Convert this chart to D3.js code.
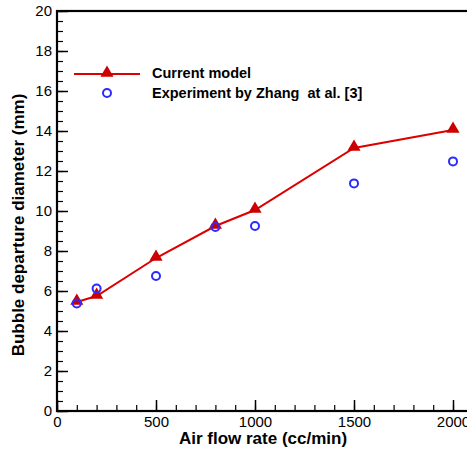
<!DOCTYPE html>
<html>
  <head>
    <meta charset="utf-8">
    <title>Bubble departure diameter</title>
    <script src="https://d3js.org/d3.v7.min.js"></script>
    <style>
    body { margin: 0; background: #fff; }
    text { font-family: "Liberation Sans", Arial, sans-serif; }
    .tick text { font-size: 15px; fill: #000; }
    .axis-title { font-size: 17px; font-weight: bold; }
    .legend-text { font-size: 14.5px; font-weight: bold; }
    </style>
  </head>
  <body>
    <script>
      // data
      const flowRates = [100, 200, 500, 800, 1000, 1500, 2000];
      const modelDiam = [5.45, 5.75, 7.65, 9.25, 10.05, 13.15, 14.05];
      const expDiam = [5.38, 6.12, 6.75, 9.2, 9.25, 11.38, 12.48];
      const xTicks = [0, 500, 1000, 1500, 2000];
      const yTicks = [0, 2, 4, 6, 8, 10, 12, 14, 16, 18, 20];

      const width = 467, height = 450;
      const plotLeft = 57, plotTop = 11, plotBottom = 411;

      const svg = d3.select("body").append("svg")
          .attr("width", width)
          .attr("height", height);

      const x = d3.scaleLinear().domain([0, 2100]).range([plotLeft, plotLeft + 2100 * 99 / 500]);
      const y = d3.scaleLinear().domain([0, 20]).range([plotBottom, plotTop]);

      // minor ticks first
      svg.append("g")
          .attr("transform", "translate(0," + plotBottom + ")")
          .call(d3.axisTop(x).tickValues(d3.range(0, 2101, 100)).tickSize(6).tickFormat(""))
          .call(g => g.select(".domain").remove())
          .selectAll("line").attr("stroke-width", 1.2);

      svg.append("g")
          .attr("transform", "translate(" + plotLeft + ",0)")
          .call(d3.axisRight(y).tickValues(d3.range(0, 20.01, 0.5)).tickSize(6).tickFormat(""))
          .call(g => g.select(".domain").remove())
          .selectAll("line").attr("stroke-width", 1.2);

      // major ticks with labels
      const xAxis = svg.append("g")
          .attr("transform", "translate(0," + plotBottom + ")")
          .call(d3.axisTop(x).tickValues(xTicks).tickSize(11).tickFormat(d => d));
      xAxis.select(".domain").remove();
      xAxis.selectAll(".tick line").attr("stroke-width", 1.5);
      xAxis.selectAll(".tick text").attr("y", 5).attr("dy", "0.71em");

      const yAxis = svg.append("g")
          .attr("transform", "translate(" + plotLeft + ",0)")
          .call(d3.axisRight(y).tickValues(yTicks).tickSize(11).tickFormat(d => d));
      yAxis.select(".domain").remove();
      yAxis.selectAll(".tick line").attr("stroke-width", 1.5);
      yAxis.selectAll(".tick text").attr("x", -5).attr("text-anchor", "end");

      // frame
      svg.append("rect")
          .attr("x", plotLeft).attr("y", plotTop)
          .attr("width", x(2100) - plotLeft).attr("height", plotBottom - plotTop)
          .attr("fill", "none").attr("stroke", "#000").attr("stroke-width", 2.2);

      // model line
      const line = d3.line().x((d, i) => x(flowRates[i])).y(d => y(d));
      svg.append("path")
          .datum(modelDiam)
          .attr("d", line)
          .attr("fill", "none")
          .attr("stroke", "#dd0000")
          .attr("stroke-width", 2);

      const tri = d3.symbol().type(d3.symbolTriangle).size(75);
      svg.selectAll(".model-pt")
          .data(modelDiam)
          .join("path")
          .attr("class", "model-pt")
          .attr("transform", (d, i) => "translate(" + x(flowRates[i]) + "," + (y(d) - 1) + ")")
          .attr("d", tri)
          .attr("fill", "#cc0000");

      svg.selectAll(".exp-pt")
          .data(expDiam)
          .join("circle")
          .attr("class", "exp-pt")
          .attr("cx", (d, i) => x(flowRates[i]))
          .attr("cy", d => y(d))
          .attr("r", 4)
          .attr("fill", "none")
          .attr("stroke", "#2b2bff")
          .attr("stroke-width", 2);

      // legend
      const lg = svg.append("g");
      lg.append("line")
          .attr("x1", 74).attr("x2", 140).attr("y1", 74).attr("y2", 74)
          .attr("stroke", "#dd0000").attr("stroke-width", 2);
      lg.append("path")
          .attr("transform", "translate(107,73)")
          .attr("d", tri).attr("fill", "#cc0000");
      lg.append("circle")
          .attr("cx", 107).attr("cy", 93).attr("r", 4)
          .attr("fill", "none").attr("stroke", "#2b2bff").attr("stroke-width", 2);
      lg.append("text").attr("class", "legend-text")
          .attr("x", 152).attr("y", 78).text("Current model");
      lg.append("text").attr("class", "legend-text")
          .attr("x", 152).attr("y", 98).text("Experiment by Zhang  at al. [3]")
          .style("white-space", "pre");

      // axis titles
      svg.append("text").attr("class", "axis-title")
          .attr("x", 263).attr("y", 444)
          .attr("text-anchor", "middle")
          .text("Air flow rate (cc/min)");

      svg.append("text").attr("class", "axis-title")
          .attr("transform", "translate(24,225) rotate(-90)")
          .attr("text-anchor", "middle")
          .text("Bubble departure diameter (mm)");
    </script>
  </body>
</html>
